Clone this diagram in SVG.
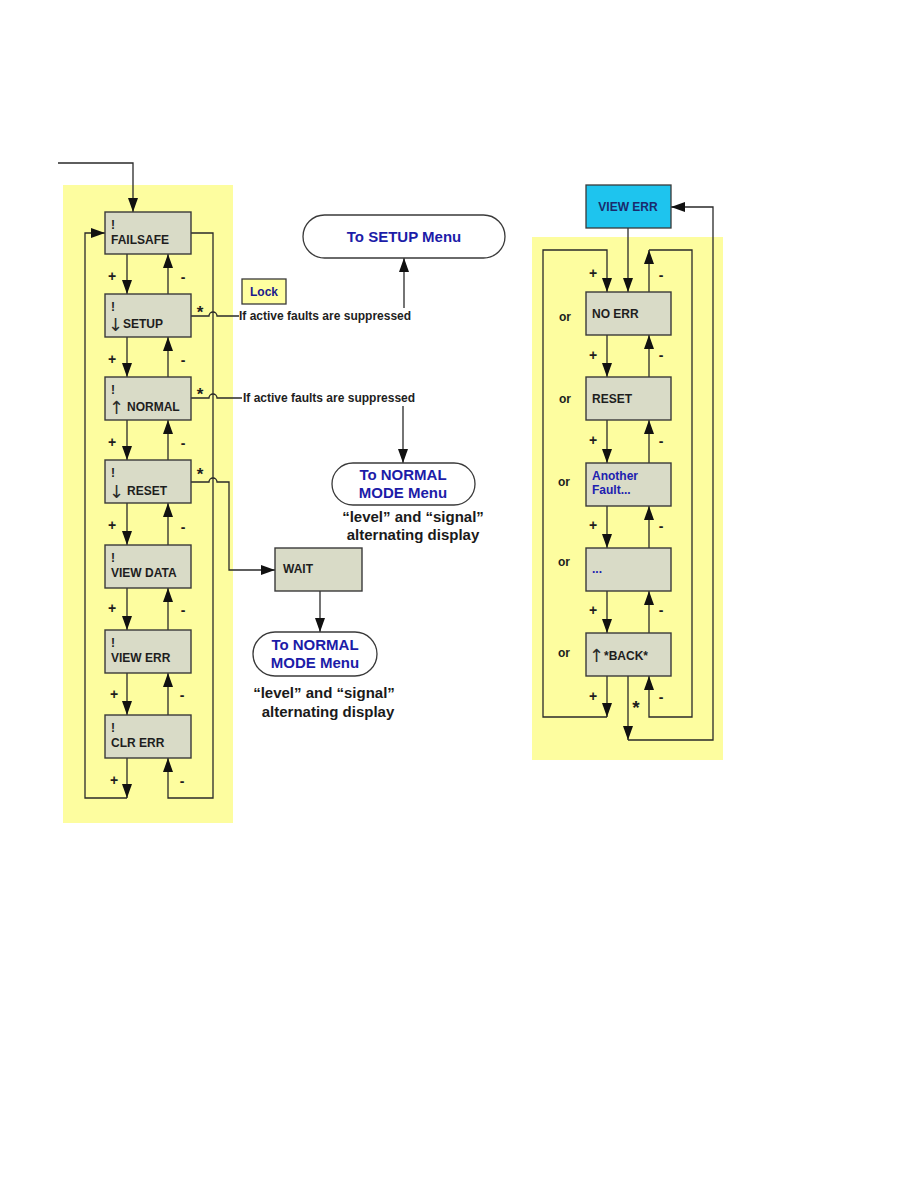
<svg xmlns="http://www.w3.org/2000/svg" width="918" height="1188" viewBox="0 0 918 1188">
<style>
.panel{fill:#fdfd9f;stroke:none}
.box{fill:#d9dbc7;stroke:#3a3a3a;stroke-width:1.4}
.pill{fill:#ffffff;stroke:#3a3a3a;stroke-width:1.3}
.ln{fill:none;stroke:#2a2a2a;stroke-width:1.3}
.t{font-family:"Liberation Sans",Arial,sans-serif;font-weight:bold;font-size:12px;fill:#1e1e1e}
.arw{font-family:"DejaVu Sans","Liberation Sans",sans-serif;font-weight:normal;font-size:18px;fill:#2a2a2a}
.pm{font-family:"Liberation Sans",Arial,sans-serif;font-weight:bold;font-size:14px;fill:#1e1e1e;text-anchor:middle}
.st{font-family:"Liberation Sans",Arial,sans-serif;font-weight:bold;font-size:17px;fill:#1e1e1e;text-anchor:middle}
.blue{font-family:"Liberation Sans",Arial,sans-serif;font-weight:bold;font-size:15px;fill:#1c1ca8;text-anchor:middle}
.cap{font-family:"Liberation Sans",Arial,sans-serif;font-weight:bold;font-size:15px;fill:#1a1a1a;text-anchor:middle}
</style>
<defs>
<marker id="ah" markerUnits="userSpaceOnUse" markerWidth="14" markerHeight="10" refX="14" refY="5" orient="auto">
<path d="M0,0 L14,5 L0,10 Z" fill="#111"/>
</marker>
</defs>
<rect class="panel" x="63" y="185" width="170" height="638"/>
<rect class="panel" x="532" y="237" width="191" height="523"/>

<g id="connectors">
<path class="ln" d="M58,163 H133 V212" marker-end="url(#ah)"/>
<path class="ln" d="M127,798 H85 V233 H105" marker-end="url(#ah)"/>
<path class="ln" d="M190,233 H213 V798 H168 V758" marker-end="url(#ah)"/>
<path class="ln" d="M127,254 V294" marker-end="url(#ah)"/>
<path class="ln" d="M168,294 V254" marker-end="url(#ah)"/>
<path class="ln" d="M127,337 V377" marker-end="url(#ah)"/>
<path class="ln" d="M168,377 V337" marker-end="url(#ah)"/>
<path class="ln" d="M127,420 V460" marker-end="url(#ah)"/>
<path class="ln" d="M168,460 V420" marker-end="url(#ah)"/>
<path class="ln" d="M127,503 V545" marker-end="url(#ah)"/>
<path class="ln" d="M168,545 V503" marker-end="url(#ah)"/>
<path class="ln" d="M127,588 V630" marker-end="url(#ah)"/>
<path class="ln" d="M168,630 V588" marker-end="url(#ah)"/>
<path class="ln" d="M127,673 V715" marker-end="url(#ah)"/>
<path class="ln" d="M168,715 V673" marker-end="url(#ah)"/>
<path class="ln" d="M127,758 V798" marker-end="url(#ah)"/>
<path class="ln" d="M191,316 H209 a4,4 0 0 1 8,0 H239"/>
<path class="ln" d="M191,398 H209 a4,4 0 0 1 8,0 H242"/>
<path class="ln" d="M191,482 H209 a4,4 0 0 1 8,0 H229 V570 H275" marker-end="url(#ah)"/>
<path class="ln" d="M404,308 V258" marker-end="url(#ah)"/>
<path class="ln" d="M403,406 V463" marker-end="url(#ah)"/>
<path class="ln" d="M320,591 V632" marker-end="url(#ah)"/>
<path class="ln" d="M628,228 V292" marker-end="url(#ah)"/>
<path class="ln" d="M607,717 H543 V250 H607 V292" marker-end="url(#ah)"/>
<path class="ln" d="M649,292 V250" marker-end="url(#ah)"/>
<path class="ln" d="M649,250 H692 V717 H649 V676" marker-end="url(#ah)"/>
<path class="ln" d="M607,335 V377" marker-end="url(#ah)"/>
<path class="ln" d="M649,377 V335" marker-end="url(#ah)"/>
<path class="ln" d="M607,420 V463" marker-end="url(#ah)"/>
<path class="ln" d="M649,463 V420" marker-end="url(#ah)"/>
<path class="ln" d="M607,506 V548" marker-end="url(#ah)"/>
<path class="ln" d="M649,548 V506" marker-end="url(#ah)"/>
<path class="ln" d="M607,591 V633" marker-end="url(#ah)"/>
<path class="ln" d="M649,633 V591" marker-end="url(#ah)"/>
<path class="ln" d="M607,676 V717" marker-end="url(#ah)"/>
<path class="ln" d="M628,676 V740" marker-end="url(#ah)"/>
<path class="ln" d="M628,740 H713 V207 H671" marker-end="url(#ah)"/>
</g>

<g id="labels">
<text class="pm" x="112" y="281">+</text><text class="pm" x="183" y="282">-</text>
<text class="pm" x="112" y="364">+</text><text class="pm" x="183" y="365">-</text>
<text class="pm" x="112" y="447">+</text><text class="pm" x="183" y="448">-</text>
<text class="pm" x="112" y="530">+</text><text class="pm" x="183" y="532">-</text>
<text class="pm" x="112" y="613">+</text><text class="pm" x="183" y="615">-</text>
<text class="pm" x="114" y="699">+</text><text class="pm" x="182" y="700">-</text>
<text class="pm" x="114" y="785">+</text><text class="pm" x="182" y="786">-</text>
<text class="st" x="200" y="318">*</text>
<text class="st" x="200" y="400">*</text>
<text class="st" x="200" y="480">*</text>
<text class="t" x="239" y="320">If active faults are suppressed</text>
<text class="t" x="243" y="402">If active faults are suppressed</text>
<text class="cap" x="413" y="522">“level” and “signal”</text>
<text class="cap" x="413" y="540">alternating display</text>
<text class="cap" x="324" y="698">“level” and “signal”</text>
<text class="cap" x="328" y="717">alternating display</text>
<text class="pm" x="593" y="278">+</text><text class="pm" x="661" y="280">-</text>
<text class="pm" x="593" y="360">+</text><text class="pm" x="661" y="360">-</text>
<text class="pm" x="593" y="445">+</text><text class="pm" x="661" y="446">-</text>
<text class="pm" x="593" y="530">+</text><text class="pm" x="661" y="531">-</text>
<text class="pm" x="593" y="615">+</text><text class="pm" x="661" y="615">-</text>
<text class="pm" x="593" y="701">+</text><text class="pm" x="661" y="702">-</text>
<text class="st" x="636" y="714" style="font-size:19px">*</text>
<text class="t" x="559" y="321">or</text>
<text class="t" x="559" y="403">or</text>
<text class="t" x="558" y="486">or</text>
<text class="t" x="558" y="566">or</text>
<text class="t" x="558" y="657">or</text>
</g>

<g id="n-failsafe"><rect class="box" x="105" y="212" width="86" height="42"/><text class="t" x="111" y="229">!</text><text class="t" x="111" y="244">FAILSAFE</text></g>
<g id="n-setup"><rect class="box" x="105" y="294" width="86" height="43"/><text class="t" x="111" y="311">!</text><text class="arw" x="108" y="331">↓</text><text class="t" x="123" y="328">SETUP</text></g>
<g id="n-normal"><rect class="box" x="105" y="377" width="86" height="43"/><text class="t" x="111" y="394">!</text><text class="arw" x="109" y="414">↑</text><text class="t" x="127" y="411">NORMAL</text></g>
<g id="n-reset"><rect class="box" x="105" y="460" width="86" height="43"/><text class="t" x="111" y="477">!</text><text class="arw" x="109" y="498">↓</text><text class="t" x="127" y="495">RESET</text></g>
<g id="n-viewdata"><rect class="box" x="105" y="545" width="86" height="43"/><text class="t" x="111" y="562">!</text><text class="t" x="111" y="577">VIEW DATA</text></g>
<g id="n-viewerr"><rect class="box" x="105" y="630" width="86" height="43"/><text class="t" x="111" y="647">!</text><text class="t" x="111" y="662">VIEW ERR</text></g>
<g id="n-clrerr"><rect class="box" x="105" y="715" width="86" height="43"/><text class="t" x="111" y="732">!</text><text class="t" x="111" y="747">CLR ERR</text></g>

<g id="n-lock"><rect x="242" y="279" width="44" height="25" fill="#ffffa0" stroke="#3a3a3a" stroke-width="1.3"/><text class="t" x="264" y="296" style="fill:#1a1a8c;text-anchor:middle">Lock</text></g>
<g id="n-tosetup"><rect class="pill" x="303" y="215" width="202" height="43" rx="21.5"/><text class="blue" x="404" y="242">To SETUP Menu</text></g>
<g id="n-tonormal1"><rect class="pill" x="332" y="463" width="143" height="42" rx="21"/><text class="blue" x="403" y="480">To NORMAL</text><text class="blue" x="403" y="498">MODE Menu</text></g>
<g id="n-wait"><rect class="box" x="275" y="548" width="87" height="43"/><text class="t" x="283" y="573">WAIT</text></g>
<g id="n-tonormal2"><rect class="pill" x="253" y="632" width="124" height="44" rx="22"/><text class="blue" x="315" y="650">To NORMAL</text><text class="blue" x="315" y="668">MODE Menu</text></g>

<g id="n-viewerr-top"><rect x="586" y="185" width="85" height="43" fill="#1ec4ee" stroke="#3a3a3a" stroke-width="1.3"/><text class="t" x="628" y="211" style="fill:#1a2a6c;text-anchor:middle">VIEW ERR</text></g>
<g id="n-noerr"><rect class="box" x="586" y="292" width="85" height="43"/><text class="t" x="592" y="318">NO ERR</text></g>
<g id="n-reset2"><rect class="box" x="586" y="377" width="85" height="43"/><text class="t" x="592" y="403">RESET</text></g>
<g id="n-another"><rect class="box" x="586" y="463" width="85" height="43"/><text class="t" x="592" y="480" style="fill:#2020b0">Another</text><text class="t" x="592" y="494" style="fill:#2020b0">Fault...</text></g>
<g id="n-dots"><rect class="box" x="586" y="548" width="85" height="43"/><text class="t" x="592" y="573" style="fill:#2020b0">...</text></g>
<g id="n-back"><rect class="box" x="586" y="633" width="85" height="43"/><text class="arw" x="589" y="662">↑</text><text class="t" x="604" y="660">*BACK*</text></g>
</svg>
